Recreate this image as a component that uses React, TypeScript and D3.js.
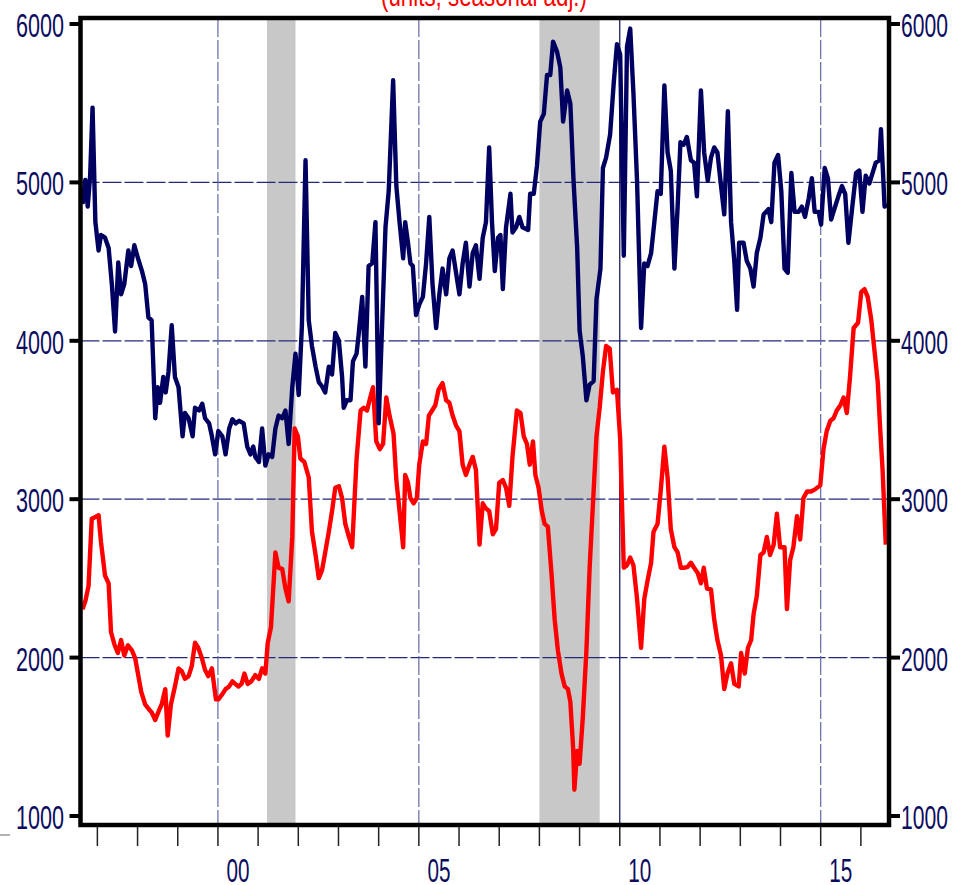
import * as React from "react";
import * as d3 from "d3";

// decimal years, with matching values
const blueYears = [
  1996.63, 1996.7, 1996.76, 1996.82, 1996.88, 1996.95, 1997.03, 1997.09, 1997.19, 1997.28, 1997.36, 1997.44,
  1997.52, 1997.59, 1997.67, 1997.77, 1997.84, 1997.92, 1998.01, 1998.11, 1998.19, 1998.27, 1998.35, 1998.44,
  1998.5, 1998.56, 1998.64, 1998.7, 1998.77, 1998.85, 1998.93, 1999.02, 1999.12, 1999.18, 1999.27, 1999.37,
  1999.43, 1999.53, 1999.61, 1999.68, 1999.78, 1999.85, 1999.93, 2000.01, 2000.11, 2000.19, 2000.28, 2000.36,
  2000.44, 2000.53, 2000.64, 2000.73, 2000.81, 2000.88, 2000.93, 2001.02, 2001.1, 2001.18, 2001.26, 2001.35,
  2001.43, 2001.51, 2001.6, 2001.68, 2001.76, 2001.85, 2001.93, 2002.01, 2002.09, 2002.18, 2002.26, 2002.34,
  2002.43, 2002.51, 2002.59, 2002.67, 2002.76, 2002.84, 2002.92, 2003.01, 2003.09, 2003.13, 2003.21, 2003.3,
  2003.36, 2003.45, 2003.5, 2003.59, 2003.67, 2003.75, 2003.84, 2003.92, 2004.0, 2004.17, 2004.25, 2004.36,
  2004.44, 2004.52, 2004.61, 2004.66, 2004.73, 2004.79, 2004.85, 2004.93, 2005.01, 2005.1, 2005.18, 2005.26,
  2005.34, 2005.43, 2005.51, 2005.59, 2005.68, 2005.76, 2005.84, 2005.93, 2006.01, 2006.09, 2006.17, 2006.26,
  2006.34, 2006.42, 2006.51, 2006.59, 2006.67, 2006.75, 2006.82, 2006.89, 2006.97, 2007.03, 2007.09, 2007.17,
  2007.28, 2007.33, 2007.42, 2007.5, 2007.58, 2007.72, 2007.77, 2007.86, 2007.94, 2008.02, 2008.11, 2008.19,
  2008.27, 2008.34, 2008.44, 2008.52, 2008.59, 2008.69, 2008.77, 2008.85, 2008.94, 2009.0, 2009.08, 2009.17,
  2009.25, 2009.35, 2009.42, 2009.52, 2009.58, 2009.66, 2009.76, 2009.85, 2009.93, 2010.01, 2010.1, 2010.18,
  2010.26, 2010.34, 2010.43, 2010.53, 2010.61, 2010.69, 2010.78, 2010.86, 2010.94, 2011.02, 2011.11, 2011.19,
  2011.27, 2011.36, 2011.44, 2011.51, 2011.59, 2011.67, 2011.77, 2011.85, 2011.92, 2012.02, 2012.1, 2012.19,
  2012.27, 2012.35, 2012.43, 2012.52, 2012.6, 2012.69, 2012.77, 2012.85, 2012.92, 2012.97, 2013.08, 2013.16,
  2013.25, 2013.33, 2013.41, 2013.5, 2013.58, 2013.7, 2013.77, 2013.85, 2013.94, 2014.02, 2014.1, 2014.18,
  2014.27, 2014.35, 2014.45, 2014.53, 2014.61, 2014.7, 2014.78, 2014.85, 2014.95, 2015.01, 2015.1, 2015.18,
  2015.26, 2015.34, 2015.44, 2015.53, 2015.61, 2015.69, 2015.78, 2015.88, 2015.96, 2016.04, 2016.12, 2016.21,
  2016.29, 2016.37, 2016.46, 2016.5, 2016.59, 2016.65,
];
const blueValues = [
  4863, 5016, 4847, 5042, 5472, 4750, 4570, 4668, 4651, 4586, 4358, 4059,
  4495, 4293, 4358, 4570, 4472, 4603, 4521, 4440, 4358, 4147, 4130, 3511,
  3707, 3609, 3772, 3674, 3805, 4098, 3772, 3707, 3397, 3544, 3511, 3397,
  3577, 3560, 3603, 3511, 3479, 3397, 3283, 3430, 3397, 3283, 3446, 3505,
  3479, 3495, 3479, 3332, 3283, 3332, 3267, 3235, 3446, 3212, 3283, 3267,
  3446, 3528, 3511, 3560, 3349, 3707, 3919, 3658, 4098, 5140, 4130, 3967,
  3837, 3739, 3713, 3674, 3837, 3788, 4049, 4000, 3772, 3577, 3625, 3625,
  3870, 3919, 4033, 4277, 3837, 4472, 4489, 4749, 3479, 4717, 4945, 5645,
  4977, 4749, 4521, 4749, 4619, 4489, 4472, 4163, 4228, 4277, 4489, 4782,
  4358, 4081, 4293, 4456, 4293, 4521, 4570, 4423, 4293, 4489, 4619, 4342,
  4554, 4603, 4391, 4651, 4749, 5221, 4749, 4440, 4651, 4668, 4326, 4717,
  4928, 4684, 4717, 4782, 4717, 4700, 4928, 4928, 5107, 5384, 5433, 5678,
  5678, 5889, 5824, 5726, 5384, 5580, 5498, 5010, 4586, 4065, 3902, 3625,
  3723, 3746, 4261, 4456, 5091, 5156, 5303, 5629, 5873, 5808, 4537, 5857,
  5971, 5564, 5010, 4081, 4489, 4472, 4554, 4749, 4945, 4928, 5612, 5189,
  5075, 4456, 4847, 5254, 5238, 5287, 5140, 5124, 4912, 5580, 5189, 5010,
  5156, 5221, 5189, 4977, 4798, 5450, 4749, 4505, 4195, 4619, 4619, 4505,
  4456, 4342, 4554, 4651, 4798, 4831, 4749, 5124, 5173, 4945, 4456, 4430,
  5059, 4814, 4814, 4847, 4782, 4896, 5026, 4814, 4814, 4733, 5091, 5026,
  4765, 4831, 4912, 4977, 4928, 4619, 4831, 5059, 5075, 4814, 5042, 4993,
  5059, 5124, 5140, 5336, 4847, 4863,
];

const redYears = [
  1996.63, 1996.7, 1996.78, 1996.86, 1996.94, 1997.03, 1997.09, 1997.19, 1997.28, 1997.34, 1997.43, 1997.51,
  1997.59, 1997.67, 1997.76, 1997.86, 1997.94, 1998.01, 1998.09, 1998.19, 1998.29, 1998.35, 1998.44, 1998.54,
  1998.6, 1998.69, 1998.75, 1998.83, 1998.93, 1999.02, 1999.1, 1999.18, 1999.27, 1999.35, 1999.43, 1999.51,
  1999.6, 1999.68, 1999.76, 1999.85, 1999.95, 2000.01, 2000.11, 2000.19, 2000.28, 2000.36, 2000.43, 2000.51,
  2000.59, 2000.66, 2000.74, 2000.83, 2000.93, 2001.02, 2001.1, 2001.18, 2001.24, 2001.32, 2001.43, 2001.51,
  2001.6, 2001.68, 2001.76, 2001.85, 2001.91, 2001.99, 2002.05, 2002.15, 2002.26, 2002.34, 2002.43, 2002.51,
  2002.59, 2002.67, 2002.76, 2002.84, 2002.92, 2003.01, 2003.09, 2003.17, 2003.26, 2003.34, 2003.45, 2003.55,
  2003.63, 2003.71, 2003.79, 2003.86, 2003.94, 2004.03, 2004.11, 2004.19, 2004.27, 2004.37, 2004.44, 2004.52,
  2004.61, 2004.66, 2004.73, 2004.79, 2004.87, 2004.95, 2005.01, 2005.1, 2005.18, 2005.25, 2005.33, 2005.41,
  2005.49, 2005.59, 2005.68, 2005.76, 2005.84, 2005.93, 2006.01, 2006.09, 2006.17, 2006.26, 2006.34, 2006.42,
  2006.51, 2006.59, 2006.67, 2006.75, 2006.84, 2006.92, 2007.0, 2007.09, 2007.17, 2007.25, 2007.33, 2007.44,
  2007.53, 2007.61, 2007.69, 2007.76, 2007.84, 2007.9, 2007.98, 2008.06, 2008.13, 2008.21, 2008.3, 2008.38,
  2008.46, 2008.55, 2008.63, 2008.71, 2008.77, 2008.84, 2008.87, 2008.94, 2009.0, 2009.08, 2009.17, 2009.25,
  2009.35, 2009.42, 2009.5, 2009.58, 2009.66, 2009.75, 2009.83, 2009.93, 2010.01, 2010.1, 2010.18, 2010.26,
  2010.34, 2010.43, 2010.53, 2010.61, 2010.69, 2010.78, 2010.84, 2010.94, 2011.02, 2011.11, 2011.19, 2011.27,
  2011.36, 2011.44, 2011.52, 2011.6, 2011.69, 2011.77, 2011.85, 2011.94, 2012.02, 2012.09, 2012.17, 2012.27,
  2012.35, 2012.43, 2012.52, 2012.6, 2012.68, 2012.77, 2012.85, 2012.96, 2013.02, 2013.11, 2013.19, 2013.27,
  2013.33, 2013.41, 2013.5, 2013.58, 2013.66, 2013.74, 2013.83, 2013.91, 2013.99, 2014.1, 2014.16, 2014.24,
  2014.32, 2014.41, 2014.49, 2014.57, 2014.66, 2014.76, 2014.86, 2014.99, 2015.07, 2015.15, 2015.24, 2015.32,
  2015.4, 2015.49, 2015.57, 2015.65, 2015.73, 2015.82, 2015.93, 2016.01, 2016.09, 2016.17, 2016.26, 2016.34,
  2016.42, 2016.48, 2016.54, 2016.62,
];
const redValues = [
  2306, 2355, 2453, 2876, 2886, 2899, 2730, 2518, 2469, 2160, 2078, 2029,
  2111, 2013, 2078, 2046, 1997, 1899, 1785, 1704, 1671, 1655, 1606, 1671,
  1704, 1801, 1508, 1704, 1818, 1932, 1915, 1866, 1883, 1948, 2094, 2062,
  1997, 1922, 1883, 1932, 1736, 1736, 1769, 1801, 1818, 1850, 1834, 1818,
  1834, 1899, 1834, 1850, 1889, 1866, 1932, 1899, 2094, 2192, 2664, 2567,
  2560, 2436, 2355, 2762, 3446, 3397, 3257, 3235, 3137, 2795, 2648, 2502,
  2550, 2664, 2795, 2925, 3072, 3082, 3007, 2844, 2762, 2697, 3251, 3560,
  3577, 3560, 3642, 3707, 3365, 3316, 3349, 3642, 3528, 3414, 3121, 2925,
  2697, 3153, 3104, 3007, 2974, 3007, 3218, 3365, 3349, 3528, 3560, 3593,
  3691, 3733, 3625, 3609, 3528, 3463, 3430, 3218, 3153, 3218, 3267, 3186,
  2713, 2974, 2941, 2925, 2779, 2811, 3104, 3121, 3072, 2958, 3267, 3560,
  3544, 3397, 3349, 3218, 3365, 3153, 3072, 2925, 2844, 2827, 2534, 2241,
  2046, 1899, 1818, 1801, 1720, 1427, 1166, 1410, 1329, 1622, 2046, 2567,
  3055, 3397, 3577, 3805, 3967, 3951, 3674, 3691, 3381, 2567, 2583, 2632,
  2583, 2371, 2062, 2371, 2485, 2599, 2795, 2844, 3055, 3332, 3137, 2811,
  2697, 2664, 2567, 2567, 2573, 2599, 2567, 2534, 2469, 2567, 2436, 2430,
  2241, 2111, 2013, 1801, 1899, 1964, 1834, 1818, 2029, 1899, 2062, 2111,
  2274, 2388, 2648, 2664, 2762, 2648, 2713, 2909, 2697, 2697, 2306, 2616,
  2697, 2893, 2746, 3007, 3049, 3049, 3062, 3088, 3316, 3430, 3495, 3511,
  3560, 3593, 3642, 3544, 3772, 4081, 4114, 4309, 4326, 4277, 4130, 3935,
  3739, 3446, 3186, 2713,
];

const recessions: [number, number][] = [
  [2001.22, 2001.93],
  [2008.0, 2009.5],
];
const yTicks = [1000, 2000, 3000, 4000, 5000, 6000];
const gridValues = [2000, 3000, 4000, 5000];
const gridYears = [2000, 2005, 2015];
const solidGridYears = [2010];
const yearTicks = d3.range(1997, 2017);
const yearLabels = [
  { year: 2000, label: "00" },
  { year: 2005, label: "05" },
  { year: 2010, label: "10" },
  { year: 2015, label: "15" },
];
const subtitle = "(units, seasonal adj.)";

const W = 957;
const H = 885;
const FONT = "'Liberation Sans Narrow', 'Arial Narrow', 'Liberation Sans', sans-serif";
const NAVY = "#0c0c5e";

export default function App() {
  const svgRef = React.useRef<SVGSVGElement>(null);

  React.useEffect(() => {
    const svg = d3.select(svgRef.current);
    svg.selectAll("*").remove();

    const left = 80.5, right = 889, top = 18, bottom = 825;
    const x = d3.scaleLinear().domain([1996.58, 2016.7]).range([left, right]);
    const y = d3.scaleLinear().domain([1000, 6000]).range([816, 24]);

    svg.append("rect").attr("width", W).attr("height", H).attr("fill", "#fff");

    // recession shading
    svg.selectAll("rect.rec")
      .data(recessions)
      .enter()
      .append("rect")
      .attr("class", "rec")
      .attr("x", (d) => x(d[0]))
      .attr("width", (d) => x(d[1]) - x(d[0]))
      .attr("y", top)
      .attr("height", bottom - top)
      .attr("fill", "#c8c8c8");

    // grid
    svg.selectAll("line.hgrid")
      .data(gridValues)
      .enter()
      .append("line")
      .attr("x1", left).attr("x2", right)
      .attr("y1", (d) => y(d)).attr("y2", (d) => y(d))
      .attr("stroke", "#23287a")
      .attr("stroke-width", 1.3)
      .attr("stroke-dasharray", "19 3");
    svg.selectAll("line.vgrid")
      .data(gridYears)
      .enter()
      .append("line")
      .attr("x1", (d) => x(d)).attr("x2", (d) => x(d))
      .attr("y1", top).attr("y2", bottom)
      .attr("stroke", "#6468a8")
      .attr("stroke-width", 1.2)
      .attr("stroke-dasharray", "19 3");
    svg.selectAll("line.vgrid2")
      .data(solidGridYears)
      .enter()
      .append("line")
      .attr("x1", (d) => x(d)).attr("x2", (d) => x(d))
      .attr("y1", top).attr("y2", bottom)
      .attr("stroke", "#0a0a50")
      .attr("stroke-width", 1.2);

    const line = d3.line<[number, number]>()
      .x((d) => x(d[0]))
      .y((d) => y(d[1]));

    const red = redYears.map((yr, i) => [yr, redValues[i]] as [number, number]);
    const blue = blueYears.map((yr, i) => [yr, blueValues[i]] as [number, number]);

    svg.append("path")
      .attr("d", line(red))
      .attr("fill", "none")
      .attr("stroke", "#ff0000")
      .attr("stroke-width", 4.4)
      .attr("stroke-linejoin", "round");
    svg.append("path")
      .attr("d", line(blue))
      .attr("fill", "none")
      .attr("stroke", "#000060")
      .attr("stroke-width", 4.4)
      .attr("stroke-linejoin", "round");

    // frame
    svg.append("rect")
      .attr("x", left).attr("y", top)
      .attr("width", right - left).attr("height", bottom - top)
      .attr("fill", "none")
      .attr("stroke", "#000")
      .attr("stroke-width", 4.5);

    // y ticks + labels, both sides
    yTicks.forEach((v) => {
      svg.append("line")
        .attr("x1", left - 11).attr("x2", left)
        .attr("y1", y(v)).attr("y2", y(v))
        .attr("stroke", "#000").attr("stroke-width", 4);
      svg.append("line")
        .attr("x1", right).attr("x2", right + 11)
        .attr("y1", y(v)).attr("y2", y(v))
        .attr("stroke", "#000").attr("stroke-width", 4);
      svg.append("text")
        .attr("x", 64).attr("y", y(v) + 13)
        .attr("text-anchor", "end")
        .attr("font-family", FONT).attr("font-size", 34)
        .attr("textLength", 48).attr("lengthAdjust", "spacingAndGlyphs")
        .attr("fill", NAVY)
        .text(String(v));
      svg.append("text")
        .attr("x", 901).attr("y", y(v) + 13)
        .attr("font-family", FONT).attr("font-size", 34)
        .attr("textLength", 47).attr("lengthAdjust", "spacingAndGlyphs")
        .attr("fill", NAVY)
        .text(String(v));
    });

    // x ticks
    svg.selectAll("line.xt")
      .data(yearTicks)
      .enter()
      .append("line")
      .attr("x1", (d) => x(d)).attr("x2", (d) => x(d))
      .attr("y1", bottom + 2).attr("y2", bottom + 21)
      .attr("stroke", "#222").attr("stroke-width", 1.5);

    svg.selectAll("text.xl")
      .data(yearLabels)
      .enter()
      .append("text")
      .attr("x", (d) => x(d.year + 0.5))
      .attr("y", 882)
      .attr("text-anchor", "middle")
      .attr("font-family", FONT).attr("font-size", 34)
      .attr("textLength", 23).attr("lengthAdjust", "spacingAndGlyphs")
      .attr("fill", NAVY)
      .text((d) => d.label);

    // clipped subtitle at the very top
    svg.append("text")
      .attr("x", 484).attr("y", 6)
      .attr("text-anchor", "middle")
      .attr("font-family", FONT).attr("font-size", 30)
      .attr("textLength", 206).attr("lengthAdjust", "spacingAndGlyphs")
      .attr("fill", "#ff0000")
      .text(subtitle);

    svg.append("line")
      .attr("x1", 0).attr("x2", 10).attr("y1", 835).attr("y2", 835)
      .attr("stroke", "#999").attr("stroke-width", 1.5);
  }, []);

  return (
    <svg
      ref={svgRef}
      width={W}
      height={H}
      style={{ position: "absolute", left: 0, top: 0, display: "block" }}
    />
  );
}
